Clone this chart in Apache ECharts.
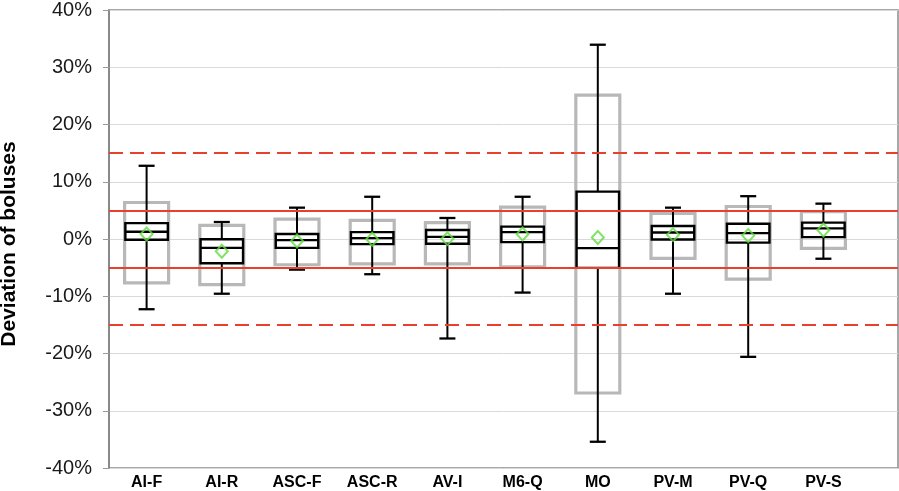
<!DOCTYPE html>
<html>
<head>
<meta charset="utf-8">
<script src="https://cdn.jsdelivr.net/npm/echarts@6/dist/echarts.min.js"></script>
<style>
html,body{margin:0;padding:0;background:#fff;}
#chart{width:899px;height:491px;}
</style>
</head>
<body>
<div id="chart"></div>
<script>
var categories = ['AI-F','AI-R','ASC-F','ASC-R','AV-I','M6-Q','MO','PV-M','PV-Q','PV-S'];
var whiskerLow  = [-12.5, -9.8, -5.6, -6.4, -17.6, -9.6, -35.6, -9.8, -20.8, -3.7];
var q1          = [-0.4, -4.5, -1.8, -1.15, -1.1, -0.8, -5.3, -0.35, -0.9, 0.07];
var median      = [1.0, -1.8, -0.45, -0.1, 0.1, 0.94, -1.85, 0.87, 0.76, 1.6];
var q3          = [2.5, -0.3, 0.6, 0.94, 1.3, 1.9, 8.0, 2.0, 2.4, 2.6];
var whiskerHigh = [12.5, 2.7, 5.2, 7.1, 3.4, 7.1, 33.6, 5.2, 7.2, 5.9];
var mean        = [0.6, -2.4, -0.6, -0.3, -0.2, 0.6, 0.0, 0.5, 0.35, 1.3];
var grayLow     = [-7.9, -8.2, -4.75, -4.6, -4.6, -5.1, -27.1, -3.65, -7.25, -1.9];
var grayHigh    = [6.1, 2.1, 3.2, 3.0, 2.6, 5.3, 24.8, 4.2, 5.4, 4.5];
var limitsSolid  = [5, -5];
var limitsDashed = [15, -15];
var yTicks = {min: -40, max: 40, interval: 10};
var yTitle = 'Deviation of boluses';

var boxData = categories.map(function (c, i) {
  return [i, whiskerLow[i], q1[i], median[i], q3[i], whiskerHigh[i], grayLow[i], grayHigh[i]];
});
var meanData = categories.map(function (c, i) { return [i, mean[i]]; });

var RED = '#e8402b';
var markData = [];
limitsSolid.forEach(function (v) { markData.push({yAxis: v, lineStyle: {type: 'solid'}}); });
limitsDashed.forEach(function (v) { markData.push({yAxis: v, lineStyle: {type: [14, 7]}}); });

function renderBox(params, api) {
  var i = api.value(0);
  var p = function (v) { return api.coord([i, v]); };
  var cx = p(0)[0];
  var yWL = p(api.value(1))[1], yQ1 = p(api.value(2))[1], yMed = p(api.value(3))[1];
  var yQ3 = p(api.value(4))[1], yWH = p(api.value(5))[1];
  var yGL = p(api.value(6))[1], yGH = p(api.value(7))[1];
  var gw = 44, bw = 42.5, cw = 16;
  var blk = {stroke: '#000', lineWidth: 2.4, fill: null};
  return {
    type: 'group',
    children: [
      {type: 'rect', shape: {x: cx - gw / 2, y: yGH, width: gw, height: yGL - yGH},
        style: {stroke: '#b8b8b8', lineWidth: 3.2, fill: null}},
      {type: 'line', shape: {x1: cx, y1: yWH, x2: cx, y2: yQ3}, style: {stroke: '#000', lineWidth: 2}},
      {type: 'line', shape: {x1: cx, y1: yQ1, x2: cx, y2: yWL}, style: {stroke: '#000', lineWidth: 2}},
      {type: 'line', shape: {x1: cx - cw / 2, y1: yWH, x2: cx + cw / 2, y2: yWH}, style: {stroke: '#000', lineWidth: 2.3}},
      {type: 'line', shape: {x1: cx - cw / 2, y1: yWL, x2: cx + cw / 2, y2: yWL}, style: {stroke: '#000', lineWidth: 2.3}},
      {type: 'rect', shape: {x: cx - bw / 2, y: yQ3, width: bw, height: yQ1 - yQ3}, style: blk},
      {type: 'line', shape: {x1: cx - bw / 2, y1: yMed, x2: cx + bw / 2, y2: yMed}, style: {stroke: '#000', lineWidth: 2.3}}
    ]
  };
}

var chart = echarts.init(document.getElementById('chart'), null, {renderer: 'canvas'});
chart.setOption({
  animation: false,
  backgroundColor: '#fff',
  grid: [
    {left: 109, right: 1, top: 8, bottom: 23, show: true, borderColor: '#8c8c8c', borderWidth: 1.5, backgroundColor: 'transparent'},
    {left: 109, width: 752, top: 8, bottom: 23}
  ],
  xAxis: [
    {gridIndex: 0, type: 'value', min: 0, max: 1, show: false},
    {gridIndex: 1, type: 'category', data: categories, boundaryGap: true,
      axisLine: {show: false}, axisTick: {show: false}, splitLine: {show: false},
      axisLabel: {fontFamily: '"Liberation Sans", Arial, sans-serif', fontWeight: 'bold', fontSize: 16, color: '#000', margin: 8}}
  ],
  yAxis: [
    {gridIndex: 0, type: 'value', min: yTicks.min, max: yTicks.max, interval: yTicks.interval,
      axisLine: {show: true, lineStyle: {color: '#7f7f7f', width: 1.5}},
      axisTick: {show: true, inside: false, length: 6, lineStyle: {color: '#9a9a9a'}},
      splitLine: {show: true, lineStyle: {color: '#d9d9d9', width: 1}},
      axisLabel: {formatter: '{value}%', fontFamily: '"Liberation Sans", Arial, sans-serif', fontSize: 20, color: '#1a1a1a', margin: 17}},
    {gridIndex: 1, type: 'value', min: yTicks.min, max: yTicks.max, interval: yTicks.interval, show: false}
  ],
  graphic: [
    {type: 'text', x: 9, y: 244, rotation: Math.PI / 2,
      style: {text: yTitle, font: 'bold 21px "Liberation Sans", Arial, sans-serif', fill: '#000', textAlign: 'center', textVerticalAlign: 'middle'}}
  ],
  series: [
    {type: 'line', xAxisIndex: 0, yAxisIndex: 0, data: [[0, 0]], showSymbol: false, symbolSize: 0, lineStyle: {opacity: 0}, z: 2,
      markLine: {silent: true, symbol: 'none', label: {show: false}, lineStyle: {color: RED, width: 2}, data: markData}},
    {type: 'custom', xAxisIndex: 1, yAxisIndex: 1, renderItem: renderBox, data: boxData, z: 3,
      encode: {x: 0, y: [1, 5]}},
    {type: 'scatter', xAxisIndex: 1, yAxisIndex: 1, data: meanData, symbol: 'diamond', symbolSize: [12, 13], z: 4,
      itemStyle: {color: 'rgba(0,0,0,0)', borderColor: '#5fdc3c', borderWidth: 2}}
  ]
});
</script>
</body>
</html>
